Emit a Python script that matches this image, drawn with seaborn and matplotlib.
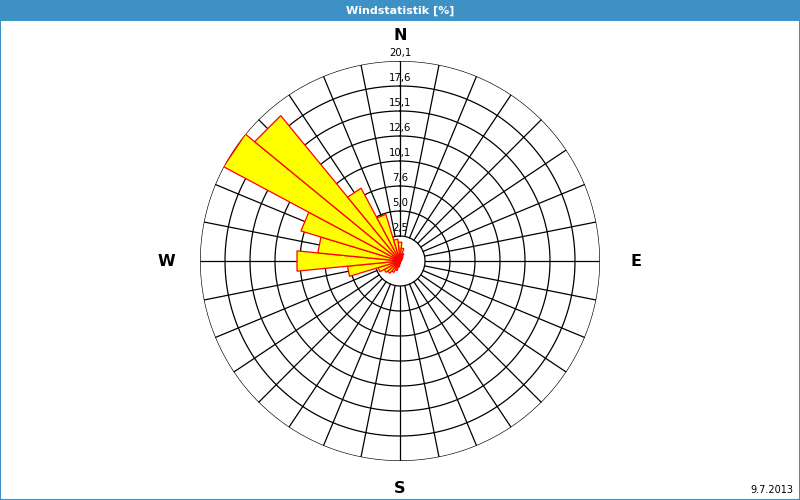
import numpy as np
import matplotlib
matplotlib.use("Agg")
import matplotlib.pyplot as plt
from matplotlib.patches import Rectangle
import seaborn as sns

# Wind direction sectors (degrees, clockwise from north) and frequency in %
directions = [i * 11.25 for i in range(32)]
frequencies = [1.9, 1.3, 0.8, 0.5, 0.3, 0.2, 0.1, 0.1,
               0.1, 0.1, 0.1, 0.1, 0.1, 0.1, 0.1, 0.2,
               0.3, 0.6, 1.0, 1.3, 1.6, 1.8, 2.3, 5.3,
               10.4, 8.3, 10.4, 20.1, 18.9, 8.3, 4.9, 2.2]

# Radial scale
r_max = 20.1
ring_values = [r_max * k / 8 for k in range(1, 9)]
ring_labels = ["2,5", "5,0", "7,6", "10,1", "12,6", "15,1", "17,6", "20,1"]

compass_labels = ["N", "E", "S", "W"]
compass_angles = [0, 90, 180, 270]
compass_radius = [22.7, 23.7, 22.9, 23.5]

title = "Windstatistik [%]"
date_text = "9.7.2013"

sns.set_theme(style="white")
plt.rcParams["font.family"] = ["DejaVu Sans"]

blue = "#3d91c5"
fig = plt.figure(figsize=(8, 5), dpi=100, facecolor="white")

# header band and frame
fig.patches.append(Rectangle((0, 479 / 500), 1, 21 / 500, transform=fig.transFigure,
                             facecolor=blue, edgecolor="none", zorder=0))
fig.patches.append(Rectangle((0.0006, 0.001), 0.9988, 0.998, transform=fig.transFigure,
                             fill=False, edgecolor=blue, lw=1.5, zorder=5))
fig.text(0.5, 1 - 10.5 / 500, title, color="white", fontsize=8, fontweight="bold",
         ha="center", va="center")

ax = fig.add_axes([0.25, 39 / 500, 0.5, 0.8], projection="polar")
ax.set_theta_zero_location("N")
ax.set_theta_direction(-1)
ax.set_ylim(0, r_max)
ax.set_axis_off()

# concentric rings
circle_t = np.linspace(0, 2 * np.pi, 721)
for rv in ring_values:
    ax.plot(circle_t, np.full_like(circle_t, rv), color="black", lw=0.9, zorder=1)

# spokes between the innermost and outermost ring
for d in directions:
    t = np.deg2rad(d)
    ax.plot([t, t], [ring_values[0], r_max], color="black", lw=0.9, zorder=1)

# wedge bars
half = np.deg2rad(11.25 / 2)
for d, v in zip(directions, frequencies):
    t = np.deg2rad(d)
    ax.fill([t, t - half, t + half], [0, v, v], facecolor="#ffff00",
            edgecolor="#ff0000", lw=0.9, zorder=2)

# ring value labels along the north spoke
for rv, lab in zip(ring_values, ring_labels):
    ax.annotate(lab, xy=(0, rv), xytext=(0, 2.2), textcoords="offset points",
                ha="center", va="bottom", fontsize=7.3, color="black", zorder=3,
                annotation_clip=False)

# compass points
for lab, ang, rr in zip(compass_labels, compass_angles, compass_radius):
    ax.text(np.deg2rad(ang), rr, lab, ha="center", va="center", fontsize=11.5,
            fontweight="bold", color="black", clip_on=False)

fig.text(793 / 800, 1 - 490 / 500, date_text, ha="right", va="center", fontsize=7,
         color="black")

fig.savefig("out.png", dpi=100, facecolor="white")
